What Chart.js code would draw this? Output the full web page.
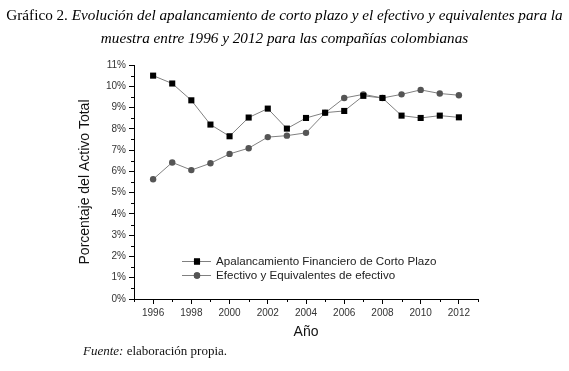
<!DOCTYPE html>
<html><head><meta charset="utf-8">
<script src="https://cdn.jsdelivr.net/npm/chart.js@4"></script>
<style>
body{margin:0;width:569px;height:371px;background:#fff;position:relative;overflow:hidden;}
canvas{position:absolute;left:0;top:0}
#t{position:absolute;left:0;top:3px;width:569px;text-align:center;font-family:"Liberation Serif",serif;font-size:15.2px;line-height:23px;color:#000;}
#f{position:absolute;left:83px;top:343px;font-family:"Liberation Serif",serif;font-size:13px;color:#111}
</style></head><body>
<canvas id="c" width="569" height="371"></canvas>
<div id="t">Gráfico 2. <i>Evolución del apalancamiento de corto plazo y el efectivo y equivalentes para la</i><br><i>muestra entre 1996 y 2012 para las compañías colombianas</i></div>
<div id="f"><i>Fuente:</i> elaboración propia.</div>
<script>
const years = [1996,1997,1998,1999,2000,2001,2002,2003,2004,2005,2006,2007,2008,2009,2010,2011,2012];
const apalancamiento = [10.5,10.13,9.34,8.2,7.65,8.53,8.95,8.01,8.51,8.76,8.84,9.55,9.45,8.62,8.51,8.62,8.54];
const efectivo = [5.63,6.42,6.06,6.38,6.82,7.09,7.61,7.68,7.81,8.75,9.45,9.62,9.45,9.62,9.83,9.66,9.58];
const seriesNames = ['Apalancamiento Financiero de Corto Plazo','Efectivo y Equivalentes de efectivo'];
const xTitle = 'Año';
const yTitle = 'Porcentaje del Activo Total';

const sans = '"Liberation Sans", Arial, sans-serif';

const minorTicks = {
  id:'minorTicks',
  afterDraw(chart){
    const ctx = chart.ctx, xs = chart.scales.x, ys = chart.scales.y;
    ctx.save();
    ctx.strokeStyle = '#000'; ctx.lineWidth = 1;
    for (let v = 1995; v <= 2013; v++) {
      if (v % 2 === 0) continue;
      const px = Math.round(xs.getPixelForValue(v)) + 0.5;
      ctx.beginPath(); ctx.moveTo(px, ys.bottom); ctx.lineTo(px, ys.bottom + 3); ctx.stroke();
    }
    for (let v = 0.5; v < 11; v += 1) {
      const py = Math.round(ys.getPixelForValue(v)) + 0.5;
      ctx.beginPath(); ctx.moveTo(xs.left - 3, py); ctx.lineTo(xs.left, py); ctx.stroke();
    }
    ctx.restore();
  }
};

const customLegend = {
  id:'customLegend',
  afterDraw(chart){
    const ctx = chart.ctx;
    const rows = [261.5, 275.5];
    ctx.save();
    chart.data.datasets.forEach((ds, i) => {
      const y = rows[i];
      ctx.strokeStyle = ds.borderColor; ctx.lineWidth = 1;
      ctx.beginPath(); ctx.moveTo(182, y); ctx.lineTo(211, y); ctx.stroke();
      ctx.fillStyle = ds.pointBackgroundColor;
      Chart.helpers.drawPoint(ctx, {pointStyle: ds.pointStyle, radius: ds.pointRadius, borderWidth: 0}, 197, y);
      ctx.fill();
      ctx.fillStyle = '#222';
      ctx.font = '11.6px ' + sans;
      ctx.textBaseline = 'middle';
      ctx.fillText(ds.label, 216, y + 0.5);
    });
    ctx.restore();
  }
};

new Chart(document.getElementById('c'), {
  type: 'line',
  data: {
    datasets: [
      {label: seriesNames[0], data: years.map((y,i)=>({x:y, y:apalancamiento[i]})),
       borderColor:'#808080', borderWidth:1, pointStyle:'rect', pointRadius:4.3,
       pointBackgroundColor:'#000', pointBorderWidth:0, tension:0},
      {label: seriesNames[1], data: years.map((y,i)=>({x:y, y:efectivo[i]})),
       borderColor:'#808080', borderWidth:1, pointStyle:'circle', pointRadius:3.2,
       pointBackgroundColor:'#555', pointBorderWidth:0, tension:0}
    ]
  },
  options: {
    responsive:false, animation:false, devicePixelRatio:1,
    layout:{padding:{left:77, right:91, top:65, bottom:30}},
    plugins:{legend:{display:false}, tooltip:{enabled:false}},
    scales:{
      x:{type:'linear', min:1995, max:2013,
         afterFit(s){ s.height = 42; },
         ticks:{stepSize:1, autoSkip:false, maxRotation:0, padding:3, color:'#333',
                font:{family:sans, size:10},
                callback:v => (v % 2 === 0 ? String(v) : '')},
         grid:{drawOnChartArea:false, drawTicks:true, tickLength:5,
               tickColor: c => (c.tick && c.tick.value % 2 === 0 ? '#000' : 'rgba(0,0,0,0)')},
         border:{color:'#000', width:1},
         title:{display:true, text:xTitle, color:'#111', font:{family:sans, size:14}, padding:0}},
      y:{min:0, max:11,
         afterFit(s){ s.width = 57; },
         ticks:{stepSize:1, padding:3, color:'#333', font:{family:sans, size:10},
                callback:v => v + '%'},
         grid:{drawOnChartArea:false, drawTicks:true, tickLength:5, tickColor:'#000'},
         border:{color:'#000', width:1},
         title:{display:true, text:yTitle, color:'#111', font:{family:sans, size:14}, padding:0}}
    }
  },
  plugins:[minorTicks, customLegend]
});
</script>
</body></html>
